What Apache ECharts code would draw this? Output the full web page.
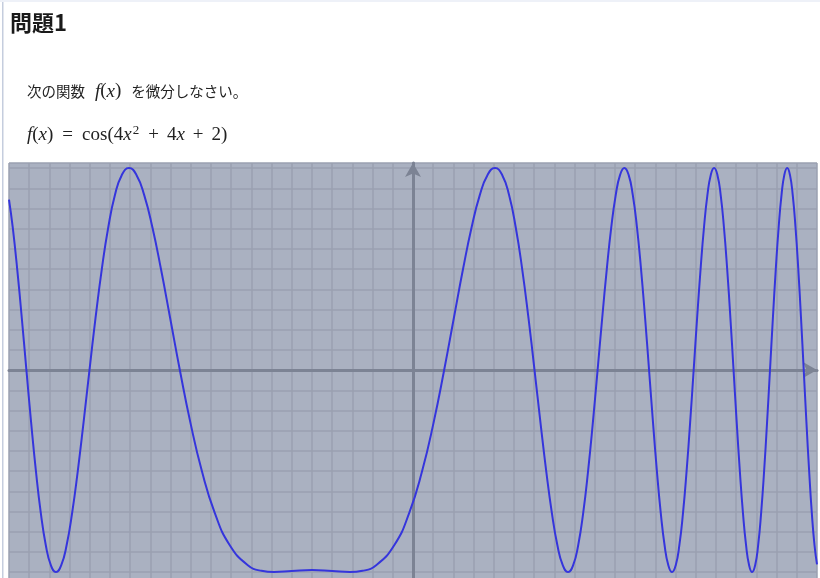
<!DOCTYPE html>
<html>
<head>
<meta charset="utf-8">
<script src="https://cdn.jsdelivr.net/npm/echarts@6/dist/echarts.min.js"></script>
<style>
  html, body { margin: 0; padding: 0; background: #ffffff; }
  #chart { width: 820px; height: 578px; }
</style>
</head>
<body>
<div id="chart"></div>
<script>
// x positions and curve values f(x)
var xValues = [-2, -1.9816, -1.9594, -1.9368, -1.9138, -1.8905, -1.8667, -1.8426, -1.8180, -1.7929,
  -1.7674, -1.7413, -1.7146, -1.6874, -1.6595, -1.6309, -1.6016, -1.5715, -1.5405, -1.5085,
  -1.4756, -1.4414, -1.4060, -1.3691, -1.3306, -1.2902, -1.2477, -1.2025, -1.1543, -1.1022,
  -1.0452, -0.9814, -0.9078, -0.8176, -0.75, -0.6881, -0.6, -0.5, -0.4, -0.3119,
  -0.25, -0.1824, -0.0922, -0.0186, 0.0452, 0.1022, 0.1543, 0.2025, 0.2477, 0.2902,
  0.3306, 0.3691, 0.4060, 0.4414, 0.4756, 0.5085, 0.5405, 0.5715, 0.6016, 0.6309,
  0.6595, 0.6874, 0.7146, 0.7413, 0.7674, 0.7929, 0.8180, 0.8426, 0.8667, 0.8905,
  0.9138, 0.9368, 0.9594, 0.9816, 1.0036, 1.0252, 1.0465, 1.0675, 1.0882, 1.1087,
  1.1289, 1.1489, 1.1686, 1.1881, 1.2074, 1.2265, 1.2453, 1.2640, 1.2824, 1.3007,
  1.3188, 1.3367, 1.3544, 1.3720, 1.3894, 1.4066, 1.4237, 1.4406, 1.4574, 1.4741,
  1.4906, 1.5070, 1.5232, 1.5393, 1.5553, 1.5712, 1.5869, 1.6025, 1.6180, 1.6334,
  1.6487, 1.6639, 1.6789, 1.6939, 1.7088, 1.7235, 1.7382, 1.7528, 1.7673, 1.7817,
  1.7960, 1.8102, 1.8243, 1.8383, 1.8523, 1.8661, 1.8799, 1.8936, 1.9073, 1.9208,
  1.9343, 1.9477, 1.9611, 1.9743, 1.9875, 2];
var yValues = [0.844, 0.707, 0.5, 0.259, 0, -0.259, -0.5, -0.707, -0.866, -0.966,
  -1, -0.966, -0.866, -0.707, -0.5, -0.259, 0, 0.259, 0.5, 0.707,
  0.866, 0.966, 1, 0.966, 0.866, 0.707, 0.5, 0.259, 0, -0.259,
  -0.5, -0.707, -0.866, -0.966, -0.994, -1, -0.995, -0.990, -0.995, -1,
  -0.994, -0.966, -0.866, -0.707, -0.5, -0.259, 0, 0.259, 0.5, 0.707,
  0.866, 0.966, 1, 0.966, 0.866, 0.707, 0.5, 0.259, 0, -0.259,
  -0.5, -0.707, -0.866, -0.966, -1, -0.966, -0.866, -0.707, -0.5, -0.259,
  0, 0.259, 0.5, 0.707, 0.866, 0.966, 1, 0.966, 0.866, 0.707,
  0.5, 0.259, 0, -0.259, -0.5, -0.707, -0.866, -0.966, -1, -0.966,
  -0.866, -0.707, -0.5, -0.259, 0, 0.259, 0.5, 0.707, 0.866, 0.966,
  1, 0.966, 0.866, 0.707, 0.5, 0.259, 0, -0.259, -0.5, -0.707,
  -0.866, -0.966, -1, -0.966, -0.866, -0.707, -0.5, -0.259, 0, 0.259,
  0.5, 0.707, 0.866, 0.966, 1, 0.966, 0.866, 0.707, 0.5, 0.259,
  0, -0.259, -0.5, -0.707, -0.866, -0.962];
var xRange = [-2, 2];
var yRange = [-1.1, 1.025];
var gridStep = 0.1;

var titleText = '問題1';
var questionText = '次の関数{s| }{m|f}{p|(}{m|x}{p|)}{s| }を微分しなさい。';
var formulaText = '{m|f}{p|(}{m|x}{p|)}{e| }{p|=}{e| }{p|cos(4}{m|x}{sup|2}{b| }{p|+}{b| }{p|4}{m|x}{b| }{p|+}{b| }{p|2)}';

var points = xValues.map(function (x, i) { return [x, yValues[i]]; });

var chart = echarts.init(document.getElementById('chart'), null, { renderer: 'canvas' });
var serif = '"Liberation Serif", "DejaVu Serif", serif';
var ink = '#222222';
chart.setOption({
  animation: false,
  backgroundColor: '#ffffff',
  grid: {
    left: 9, top: 163, width: 808, height: 429.25,
    outerBoundsMode: 'none',
    show: true, backgroundColor: '#aab1c1', borderWidth: 0
  },
  xAxis: {
    type: 'value', min: xRange[0], max: xRange[1], interval: gridStep,
    axisLabel: { show: false }, axisTick: { show: false },
    axisLine: { show: true, onZero: true, symbol: ['none', 'arrow'], symbolSize: [12, 14],
      lineStyle: { color: '#7c8394', width: 3 } },
    splitLine: { show: true, lineStyle: { color: '#9aa1b1', width: 1.5 } }
  },
  yAxis: {
    type: 'value', min: yRange[0], max: yRange[1], interval: gridStep,
    axisLabel: { show: false }, axisTick: { show: false },
    axisLine: { show: true, onZero: true, symbol: ['none', 'arrow'], symbolSize: [12, 14],
      lineStyle: { color: '#7c8394', width: 3 } },
    splitLine: { show: true, lineStyle: { color: '#9aa1b1', width: 1.5 } }
  },
  series: [{
    type: 'line', data: points, smooth: 0.5, showSymbol: false, symbol: 'none',
    clip: true, z: 5,
    lineStyle: { color: '#3535dc', width: 2 }
  }],
  graphic: [
    { type: 'rect', z: 50, shape: { x: 2, y: 0, width: 1.5, height: 578 }, style: { fill: '#c5cdde' } },
    { type: 'rect', z: 50, shape: { x: 0, y: 0, width: 820, height: 2 }, style: { fill: '#eef1f8' } },
    { type: 'text', z: 50, x: 10, y: 12,
      style: { text: titleText, font: 'bold 22px "Noto Sans CJK JP", sans-serif', fill: '#1a1a1a',
        verticalAlign: 'top' } },
    { type: 'text', z: 50, x: 27, y: 82,
      style: { text: questionText, font: '14.5px "Noto Sans CJK JP", sans-serif', fill: ink,
        verticalAlign: 'top',
        rich: {
          s: { width: 10, fontSize: 14.5 },
          m: { fontFamily: serif, fontStyle: 'italic', fontSize: 19, fill: ink },
          p: { fontFamily: serif, fontSize: 19, fill: ink }
        } } },
    { type: 'text', z: 50, x: 27, y: 124,
      style: { text: formulaText, font: '19px ' + serif, fill: ink,
        verticalAlign: 'top',
        rich: {
          e: { width: 9, fontSize: 19 },
          b: { width: 8, fontSize: 19 },
          m: { fontFamily: serif, fontStyle: 'italic', fontSize: 19, fill: ink },
          p: { fontFamily: serif, fontSize: 19, fill: ink },
          sup: { fontFamily: serif, fontSize: 13, fill: ink, verticalAlign: 'top', padding: [0, 1, 9, 1] }
        } } }
  ]
});
</script>
</body>
</html>
